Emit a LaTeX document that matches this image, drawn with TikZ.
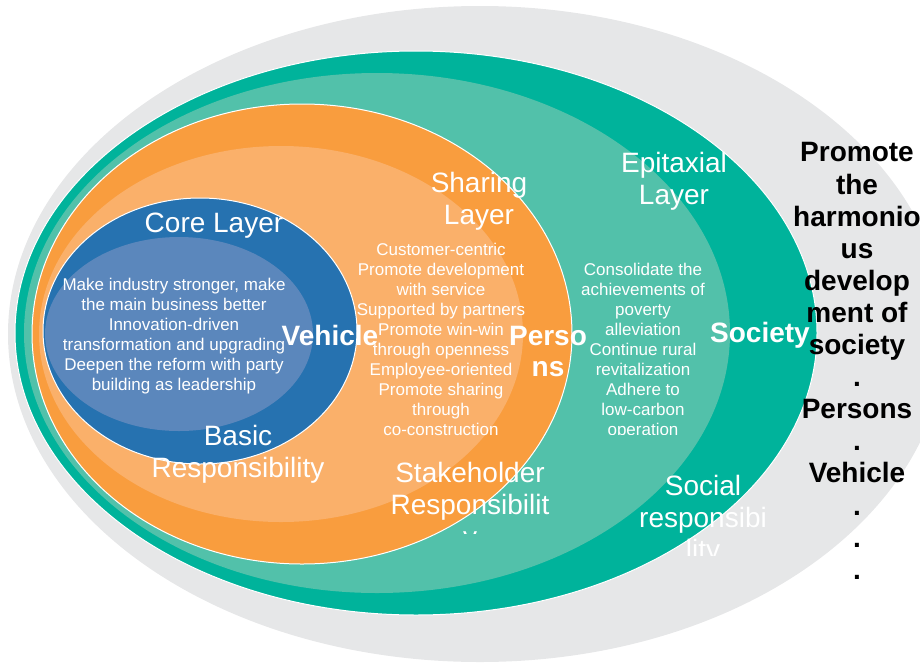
\documentclass[tikz,border=0pt]{standalone}
\usepackage{fontspec}
\setmainfont{Liberation Sans}
\definecolor{greyring}{HTML}{E6E7E8}
\definecolor{tealdark}{HTML}{00B39B}
\definecolor{teallight}{HTML}{52C1AA}
\definecolor{orangedark}{HTML}{F99D3E}
\definecolor{orangelight}{HTML}{FAB06A}
\definecolor{bluedark}{HTML}{2672B0}
\definecolor{bluelight}{HTML}{5B87BC}
\tikzset{
  layer/.style={font=\fontsize{28}{32}\selectfont, text=white, align=center, inner sep=0pt},
  body/.style={font=\fontsize{17}{20}\selectfont, text=white, align=center, inner sep=0pt},
  key/.style={font=\bfseries\fontsize{28}{31}\selectfont, text=white, align=center, inner sep=0pt},
  side/.style={font=\bfseries\fontsize{28}{32.1}\selectfont, align=center, inner sep=0pt},
  rim/.style={draw=white, line width=1pt}
}
\begin{document}
\begin{tikzpicture}[x=1pt,y=-1pt]
  \useasboundingbox (0,0) rectangle (920,664);
  \clip (0,0) rectangle (920,664);

  \fill[greyring] (480,6) arc[start angle=90, end angle=270, x radius=472pt, y radius=328pt]
    arc[start angle=-90, end angle=90, x radius=466pt, y radius=328pt] -- cycle;
  \filldraw[fill=tealdark, rim] (416,333) ellipse [x radius=401pt, y radius=282pt];
  \fill[teallight] (377,333) ellipse [x radius=353pt, y radius=260pt];
  \filldraw[fill=orangedark, rim] (302,334) ellipse [x radius=270pt, y radius=230pt];
  \fill[orangelight] (281,334) ellipse [x radius=242pt, y radius=188pt];
  \filldraw[fill=bluedark, rim] (200,331) ellipse [x radius=157pt, y radius=133pt];
  \fill[bluelight] (179,334) ellipse [x radius=134pt, y radius=97pt];

  \node[layer] (core) at (214,226) {Core Layer};
  \node[body] (coretxt) at (174,336) {Make industry stronger, make\\the main business better\\Innovation-driven\\transformation and upgrading\\Deepen the reform with party\\building as leadership};
  \node[layer] (basic) at (238,454) {Basic\\Responsibility};
  \node[key] (vehicle) at (330,335) {Vehicle};

  \node[layer] (share) at (479,201) {Sharing\\Layer};
  \node[body] (sharetxt) at (441,339) {Customer-centric\\Promote development\\with service\\Supported by partners\\Promote win-win\\through openness\\Employee-oriented\\Promote sharing\\through\\co-construction};
  \begin{scope}
    \clip (380,450) rectangle (560,533);
    \node[layer] (stake) at (470,507) {Stakeholder\\Responsibilit\\y};
  \end{scope}
  \node[key] (persons) at (548,351) {Perso\\ns};

  \node[layer] (epi) at (674,181) {Epitaxial\\Layer};
  \begin{scope}
    \clip (570,255) rectangle (720,434);
    \node[body] (epitxt) at (643,351) {Consolidate the\\achievements of\\poverty\\alleviation\\Continue rural\\revitalization\\Adhere to\\low-carbon\\operation};
  \end{scope}
  \begin{scope}
    \clip (620,465) rectangle (790,555);
    \node[layer] (social) at (703,520) {Social\\responsibi\\lity};
  \end{scope}
  \node[key] (society) at (760,335) {Society};

  \node[side] (goal) at (857,361) {Promote\\the\\harmonio\\us\\develop\\ment of\\society\\.\\Persons\\.\\Vehicle\\.\\.\\.};
\end{tikzpicture}
\end{document}
